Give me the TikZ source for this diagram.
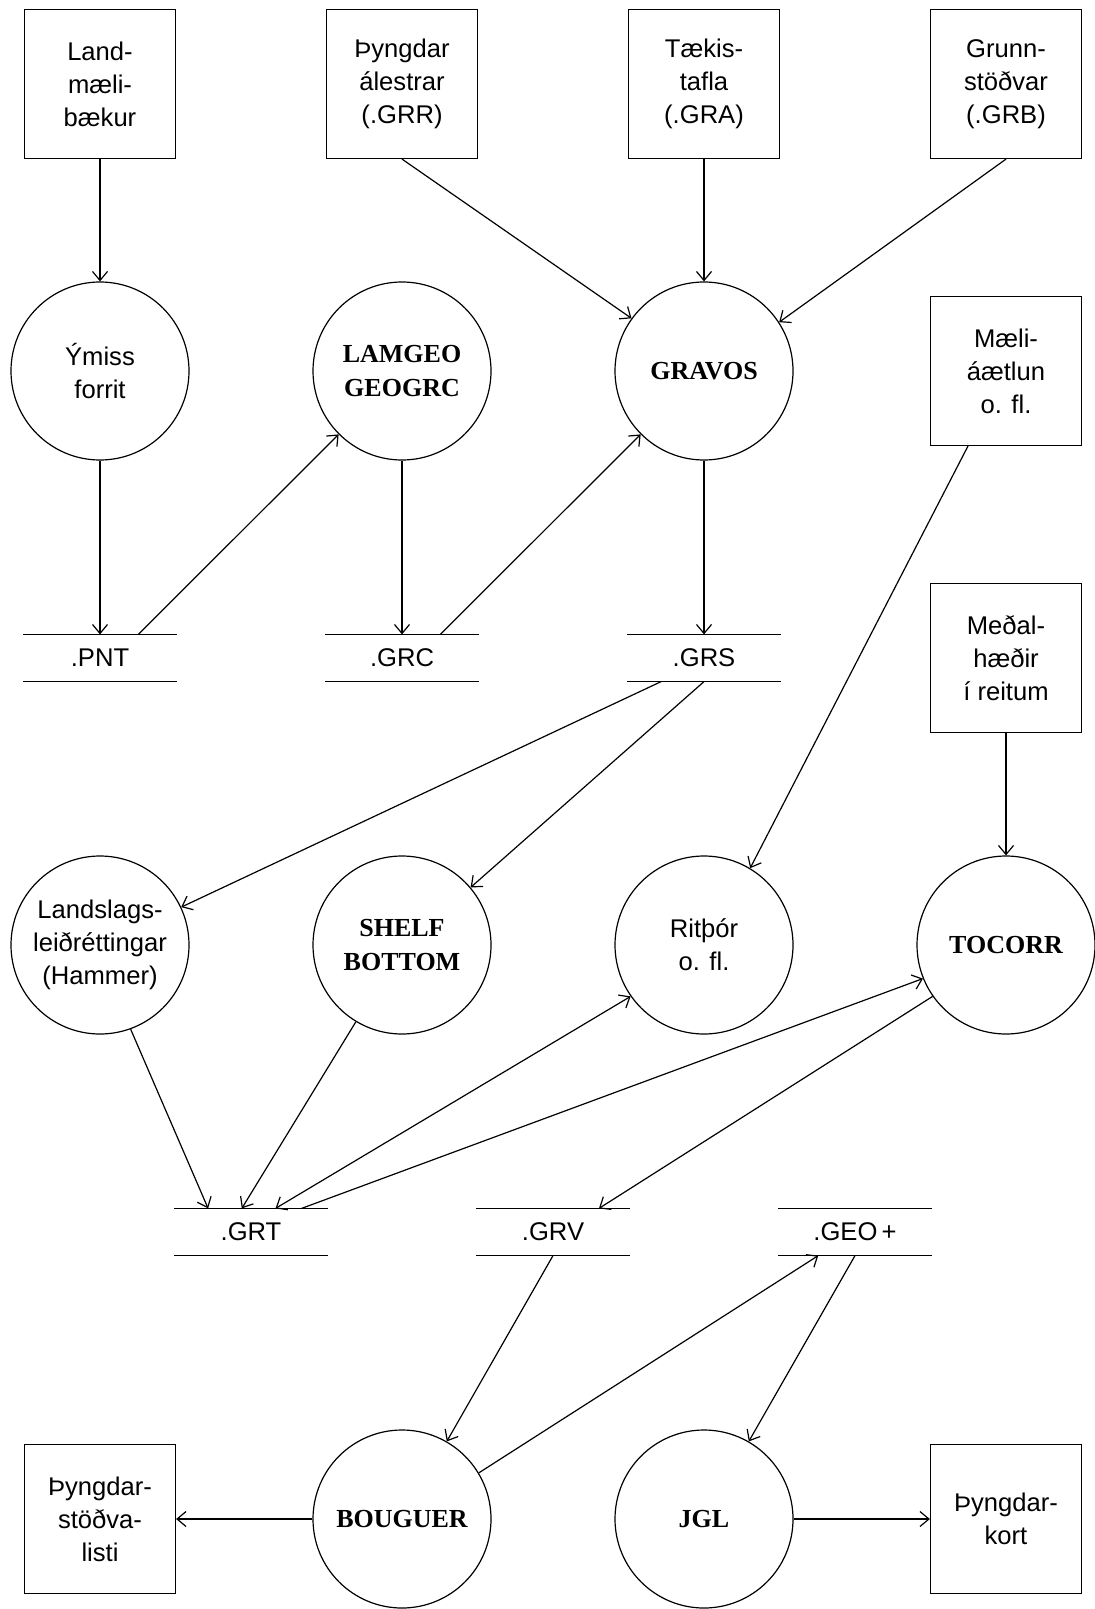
\documentclass[tikz,border=0pt]{standalone}
\usepackage{fontspec}
\setmainfont{Liberation Sans}
\newfontfamily\progfont{Liberation Serif}
\usepackage{tikz}
\usetikzlibrary{positioning,arrows.meta,calc}

\begin{document}
\begin{tikzpicture}[
  ->,
  >={Straight Barb[length=4.5pt,width=7.5pt]},
  node distance=143.5pt and 151pt,
  on grid,
  line width=0.6pt,
  every node/.style={
    align=center,
    font=\fontsize{12.8pt}{16.5pt}\selectfont
  },
  databox/.style={
    draw,
    rectangle,
    minimum width=75.5pt,
    minimum height=74.5pt,
    inner sep=2pt
  },
  process/.style={
    draw,
    circle,
    minimum size=89pt,
    inner sep=1pt
  },
  progname/.style={
    font=\progfont\bfseries\fontsize{13pt}{17pt}\selectfont
  },
  datafile/.style={
    rectangle,
    minimum width=76pt,
    minimum height=23pt,
    inner sep=0pt,
    append after command={
      (\tikzlastnode.north west) edge[-] (\tikzlastnode.north east)
      (\tikzlastnode.south west) edge[-] (\tikzlastnode.south east)
    }
  }
]
\useasboundingbox (0,0) rectangle (547pt,-804.5pt);

% inntak efst
\node[databox] (land) at (50pt,-42pt) {Land-\\mæli-\\bækur};
\node[databox] (grr) [right=of land] {Þyngdar\\álestrar\\(.GRR)};
\node[databox] (gra) [right=of grr] {Tækis-\\tafla\\(.GRA)};
\node[databox] (grb) [right=of gra] {Grunn-\\stöðvar\\(.GRB)};

\node[process] (ymiss) [below=of land] {Ýmiss\\forrit};
\node[process, progname] (lamgeo) [below=of grr] {LAMGEO\\GEOGRC};
\node[process, progname] (gravos) [below=of gra] {GRAVOS};
\node[databox] (maeli) [below=of grb] {Mæli-\\áætlun\\o. fl.};

\node[datafile] (pnt) [below=of ymiss] {.PNT};
\node[datafile] (grc) [below=of lamgeo] {.GRC};
\node[datafile] (grs) [below=of gravos] {.GRS};
\node[databox] (medal) [below=of maeli] {Meðal-\\hæðir\\í reitum};

\node[process] (hammer) [below=of pnt] {Landslags-\\leiðréttingar\\(Hammer)};
\node[process, progname] (shelf) [below=of grc] {SHELF\\BOTTOM};
\node[process] (ritthor) [below=of grs] {Ritþór\\o. fl.};
\node[process, progname] (tocorr) [below=of medal] {TOCORR};

\node[datafile] (grt) [below right=143.5pt and 75.5pt of hammer] {.GRT};
\node[datafile] (grv) [right=of grt] {.GRV};
\node[datafile] (geo) [right=of grv] {.GEO\,+};

% niðurstöður
\node[process, progname] (bouguer) [below left=143.5pt and 75.5pt of grv] {BOUGUER};
\node[process, progname] (jgl) [right=of bouguer] {JGL};
\node[databox] (listi) [left=of bouguer] {Þyngdar-\\stöðva-\\listi};
\node[databox] (kort) [right=of jgl] {Þyngdar-\\kort};

\path (land) edge (ymiss)
      (grr.south) edge (gravos.144)
      (gra) edge (gravos)
      (grb.south) edge (gravos.33)
      (ymiss) edge (pnt)
      ($(pnt.north west)!.75!(pnt.north east)$) edge (lamgeo.225)
      (lamgeo) edge (grc)
      ($(grc.north west)!.75!(grc.north east)$) edge (gravos.225)
      (gravos) edge (grs)
      ($(grs.south west)!.22!(grs.south east)$) edge (hammer.25)
      (grs.south) edge (shelf.40)
      ($(maeli.south west)!.25!(maeli.south east)$) edge (ritthor.59)
      (medal) edge (tocorr)
      (hammer.-70) edge ($(grt.north west)!.22!(grt.north east)$)
      (shelf.239) edge ($(grt.north west)!.44!(grt.north east)$)
      ($(grt.north west)!.66!(grt.north east)$) edge[<->] (ritthor.215)
      ($(grt.north west)!.83!(grt.north east)$) edge (tocorr.202)
      (tocorr.215) edge ($(grv.north west)!.8!(grv.north east)$)
      (grv.south) edge (bouguer.60)
      (bouguer.31) edge ($(geo.south west)!.26!(geo.south east)$)
      (geo.south) edge (jgl.60)
      (bouguer) edge (listi)
      (jgl) edge (kort);
\end{tikzpicture}
\end{document}
